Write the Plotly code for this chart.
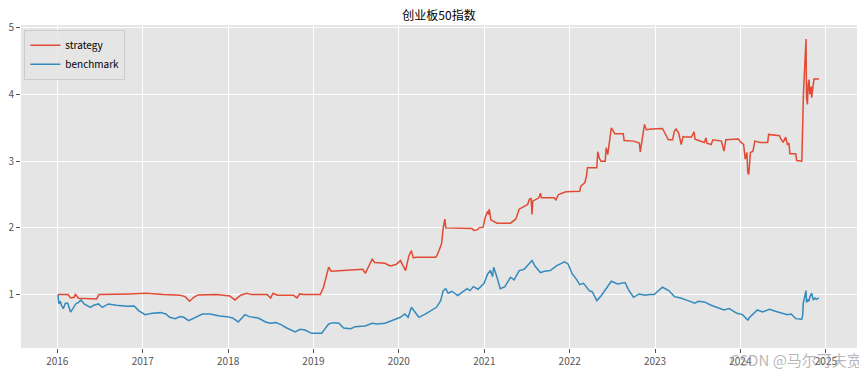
import plotly.graph_objects as go

title_text = "创业板50指数"

strategy_dates = [
    "2016-01-04", "2016-02-16", "2016-02-27", "2016-03-14", "2016-03-18", "2016-04-01", "2016-06-17", "2016-06-28",
    "2016-11-06", "2017-01-15", "2017-03-29", "2017-06-10", "2017-07-01", "2017-07-20", "2017-08-07", "2017-08-25",
    "2017-11-14", "2018-01-08", "2018-01-30", "2018-02-24", "2018-03-21", "2018-04-12", "2018-06-17", "2018-07-02",
    "2018-07-12", "2018-07-31", "2018-10-08", "2018-10-23", "2018-11-03", "2018-11-21", "2019-01-08", "2019-01-30",
    "2019-02-13", "2019-02-27", "2019-03-07", "2019-03-18", "2019-06-13", "2019-07-31", "2019-08-11", "2019-08-19",
    "2019-09-09", "2019-09-20", "2019-11-03", "2019-11-25", "2019-12-20", "2020-01-08", "2020-01-30", "2020-02-13",
    "2020-02-24", "2020-03-03", "2020-03-14", "2020-06-06", "2020-06-10", "2020-06-21", "2020-07-02", "2020-07-09",
    "2020-07-16", "2020-07-20", "2020-09-09", "2020-11-10", "2020-11-17", "2020-12-02", "2020-12-09", "2020-12-27",
    "2021-01-04", "2021-01-15", "2021-01-19", "2021-01-22", "2021-01-29", "2021-02-24", "2021-04-23", "2021-05-15",
    "2021-05-30", "2021-06-17", "2021-07-05", "2021-07-13", "2021-07-20", "2021-07-24", "2021-07-27", "2021-08-22",
    "2021-08-29", "2021-09-02", "2021-10-26", "2021-11-03", "2021-11-14", "2021-12-16", "2022-02-13", "2022-02-17",
    "2022-03-07", "2022-03-14", "2022-03-18", "2022-04-27", "2022-05-01", "2022-05-08", "2022-05-15", "2022-06-02",
    "2022-06-06", "2022-06-13", "2022-06-21", "2022-06-28", "2022-07-05", "2022-07-13", "2022-08-18", "2022-08-22",
    "2022-10-01", "2022-10-26", "2022-10-30", "2022-11-10", "2022-11-17", "2022-11-25", "2022-12-16", "2023-02-02",
    "2023-02-09", "2023-02-27", "2023-03-17", "2023-03-25", "2023-04-01", "2023-04-12", "2023-04-23", "2023-05-01",
    "2023-05-08", "2023-06-06", "2023-06-17", "2023-06-21", "2023-07-31", "2023-08-07", "2023-08-11", "2023-08-29",
    "2023-09-06", "2023-10-12", "2023-10-23", "2023-10-31", "2023-12-24", "2024-01-04", "2024-01-15", "2024-01-22",
    "2024-01-29", "2024-02-02", "2024-02-06", "2024-02-13", "2024-02-24", "2024-03-03", "2024-03-25", "2024-04-27",
    "2024-05-01", "2024-06-17", "2024-06-21", "2024-07-02", "2024-07-13", "2024-07-20", "2024-07-27", "2024-07-31",
    "2024-08-25", "2024-08-29", "2024-09-20", "2024-09-27", "2024-10-08", "2024-10-09", "2024-10-10", "2024-10-14",
    "2024-10-17", "2024-10-21", "2024-10-24", "2024-10-31", "2024-11-01", "2024-11-11", "2024-12-02",
]
strategy_values = [
    1.00, 1.00, 0.95, 0.96, 1.01, 0.945, 0.935, 1.00,
    1.01, 1.02, 1.00, 0.99, 0.97, 0.90, 0.96, 0.995,
    1.00, 0.98, 0.92, 0.99, 1.02, 1.00, 1.00, 0.95,
    1.02, 0.99, 0.99, 0.95, 1.01, 1.00, 1.00, 1.00,
    1.11, 1.33, 1.41, 1.35, 1.37, 1.38, 1.32, 1.38,
    1.53, 1.48, 1.47, 1.43, 1.45, 1.51, 1.36, 1.58,
    1.66, 1.55, 1.56, 1.56, 1.57, 1.66, 1.76, 2.00,
    2.13, 2.00, 2.00, 1.99, 1.96, 1.97, 2.00, 2.01,
    2.15, 2.25, 2.20, 2.28, 2.12, 2.07, 2.07, 2.13,
    2.28, 2.32, 2.35, 2.43, 2.44, 2.20, 2.40, 2.45,
    2.52, 2.45, 2.45, 2.42, 2.50, 2.54, 2.55, 2.62,
    2.68, 2.78, 2.90, 2.90, 3.14, 3.04, 3.00, 3.00,
    3.20, 3.10, 3.35, 3.50, 3.46, 3.41, 3.41, 3.31,
    3.30, 3.27, 3.14, 3.42, 3.55, 3.47, 3.48, 3.49,
    3.44, 3.32, 3.32, 3.45, 3.48, 3.42, 3.25, 3.37,
    3.36, 3.36, 3.44, 3.33, 3.28, 3.35, 3.27, 3.25,
    3.32, 3.30, 3.15, 3.32, 3.33, 3.28, 3.25, 3.03,
    3.13, 2.83, 2.80, 3.13, 3.15, 3.30, 3.28, 3.28,
    3.40, 3.38, 3.34, 3.28, 3.36, 3.25, 3.27, 3.11,
    3.11, 3.01, 3.00, 4.02, 4.83, 4.15, 3.95, 3.85,
    4.15, 4.22, 4.00, 4.12, 3.95, 4.23, 4.23,
]

benchmark_dates = [
    "2016-01-04", "2016-01-08", "2016-01-14", "2016-01-19", "2016-01-27", "2016-02-05", "2016-02-15", "2016-02-27",
    "2016-03-08", "2016-03-20", "2016-04-01", "2016-04-12", "2016-04-25", "2016-05-05", "2016-05-22", "2016-06-05",
    "2016-06-25", "2016-07-12", "2016-08-07", "2016-09-10", "2016-10-28", "2016-11-25", "2016-12-14", "2017-01-11",
    "2017-02-10", "2017-03-18", "2017-04-10", "2017-04-26", "2017-05-20", "2017-06-10", "2017-06-25", "2017-07-16",
    "2017-08-05", "2017-09-13", "2017-10-16", "2017-11-25", "2017-12-28", "2018-01-20", "2018-02-13", "2018-02-28",
    "2018-03-14", "2018-04-01", "2018-04-20", "2018-05-10", "2018-06-10", "2018-06-30", "2018-07-24", "2018-08-15",
    "2018-09-09", "2018-10-15", "2018-11-05", "2018-11-25", "2018-12-25", "2019-02-05", "2019-02-20", "2019-03-07",
    "2019-03-28", "2019-04-20", "2019-05-10", "2019-06-10", "2019-06-28", "2019-07-13", "2019-08-10", "2019-09-09",
    "2019-10-01", "2019-11-03", "2019-12-09", "2020-01-08", "2020-01-27", "2020-02-10", "2020-02-24", "2020-03-10",
    "2020-03-27", "2020-04-25", "2020-05-22", "2020-06-10", "2020-06-21", "2020-06-28", "2020-07-09", "2020-07-20",
    "2020-07-30", "2020-08-15", "2020-09-09", "2020-09-30", "2020-10-19", "2020-11-01", "2020-11-15", "2020-12-05",
    "2020-12-31", "2021-01-15", "2021-01-27", "2021-02-05", "2021-02-10", "2021-02-24", "2021-03-10", "2021-03-30",
    "2021-04-23", "2021-05-08", "2021-05-30", "2021-06-20", "2021-07-13", "2021-07-24", "2021-08-07", "2021-08-29",
    "2021-09-15", "2021-10-10", "2021-11-05", "2021-12-10", "2021-12-25", "2022-01-12", "2022-01-28", "2022-02-13",
    "2022-03-01", "2022-03-26", "2022-04-08", "2022-04-27", "2022-05-15", "2022-06-03", "2022-06-28", "2022-07-25",
    "2022-08-26", "2022-09-10", "2022-10-01", "2022-10-25", "2022-11-20", "2022-12-10", "2022-12-28", "2023-02-02",
    "2023-03-01", "2023-03-25", "2023-04-20", "2023-05-22", "2023-06-10", "2023-06-20", "2023-07-05", "2023-07-31",
    "2023-08-29", "2023-09-25", "2023-10-23", "2023-11-15", "2023-12-17", "2024-01-10", "2024-02-02", "2024-02-10",
    "2024-03-14", "2024-04-05", "2024-05-05", "2024-05-30", "2024-06-28", "2024-07-20", "2024-08-05", "2024-08-25",
    "2024-09-20", "2024-09-24", "2024-09-26", "2024-10-08", "2024-10-10", "2024-10-15", "2024-10-20", "2024-10-25",
    "2024-11-01", "2024-11-08", "2024-11-15", "2024-11-22", "2024-12-02",
]
benchmark_values = [
    1.00, 0.86, 0.90, 0.84, 0.79, 0.87, 0.87, 0.74,
    0.79, 0.86, 0.885, 0.92, 0.86, 0.84, 0.81, 0.84,
    0.86, 0.81, 0.86, 0.84, 0.825, 0.83, 0.76, 0.70,
    0.72, 0.73, 0.71, 0.66, 0.64, 0.67, 0.66, 0.61,
    0.64, 0.71, 0.71, 0.68, 0.67, 0.65, 0.59, 0.65,
    0.70, 0.67, 0.66, 0.65, 0.59, 0.57, 0.58, 0.55,
    0.50, 0.44, 0.48, 0.47, 0.42, 0.42, 0.49, 0.56,
    0.58, 0.57, 0.50, 0.49, 0.52, 0.52, 0.53, 0.57,
    0.56, 0.57, 0.62, 0.66, 0.71, 0.66, 0.81, 0.74,
    0.66, 0.71, 0.77, 0.81, 0.87, 0.91, 1.06, 1.09,
    1.02, 1.05, 0.985, 1.04, 1.09, 1.06, 1.12, 1.08,
    1.17, 1.31, 1.36, 1.27, 1.41, 1.26, 1.09, 1.12,
    1.26, 1.22, 1.36, 1.38, 1.48, 1.51, 1.42, 1.33,
    1.35, 1.36, 1.43, 1.49, 1.46, 1.31, 1.24, 1.15,
    1.17, 1.06, 1.04, 0.91, 0.98, 1.07, 1.20, 1.16,
    1.18, 1.07, 0.96, 1.01, 0.99, 1.00, 1.00, 1.11,
    1.06, 0.97, 0.95, 0.91, 0.89, 0.87, 0.90, 0.89,
    0.84, 0.80, 0.77, 0.79, 0.72, 0.70, 0.62, 0.66,
    0.77, 0.74, 0.78, 0.75, 0.72, 0.70, 0.71, 0.64,
    0.63, 0.70, 0.87, 1.06, 0.88, 0.93, 0.90, 0.97,
    1.02, 0.92, 0.95, 0.93, 0.95,
]

series_names = ["strategy", "benchmark"]
y_tick_values = [1, 2, 3, 4, 5]
x_tick_labels = [str(y) for y in range(2016, 2026)]

FONT = "Noto Sans CJK SC, Noto Sans, DejaVu Sans, sans-serif"

# The page body has an 8px default margin, so the figure is sized/offset to
# place the plot area where the reference has it inside the 867x374 window.
FIG_W, FIG_H = 859, 366

fig = go.Figure()
fig.add_trace(go.Scatter(
    x=strategy_dates, y=strategy_values, mode="lines", name=series_names[0],
    line=dict(color="#E24A33", width=1.5),
))
fig.add_trace(go.Scatter(
    x=benchmark_dates, y=benchmark_values, mode="lines", name=series_names[1],
    line=dict(color="#348ABD", width=1.5),
))

fig.update_layout(
    width=FIG_W, height=FIG_H,
    margin=dict(l=13, r=10, t=17, b=26, pad=0),
    paper_bgcolor="white",
    plot_bgcolor="#E5E5E5",
    font=dict(family=FONT, size=10, color="#555555"),
    title=dict(text=title_text, x=0.5, xref="paper", xanchor="center",
               y=1 - 7.5 / FIG_H, yref="container", yanchor="middle",
               font=dict(size=12, color="black", family=FONT)),
    showlegend=True,
    legend=dict(x=0.004, y=0.985, xanchor="left", yanchor="top",
                bgcolor="rgba(229,229,229,0.85)", bordercolor="#CCCCCC", borderwidth=1,
                font=dict(size=10, color="black", family=FONT),
                itemwidth=30, tracegroupgap=0),
    xaxis=dict(
        type="date",
        range=["2015-07-30", "2025-05-14"],
        tickvals=[f"{y}-01-01" for y in x_tick_labels],
        ticktext=x_tick_labels,
        showgrid=True, gridcolor="white", gridwidth=1,
        ticks="outside", ticklen=4, tickcolor="#555555",
        zeroline=False, showline=False, automargin=False,
        tickfont=dict(size=10, color="#555555"),
    ),
    yaxis=dict(
        range=[0.2, 5.04],
        tickvals=y_tick_values,
        showgrid=True, gridcolor="white", gridwidth=1,
        ticks="outside", ticklen=4, tickcolor="#555555",
        zeroline=False, showline=False, automargin=False,
        tickfont=dict(size=10, color="#555555"),
    ),
    annotations=[dict(
        text="CSDN @马尔可夫宽", xref="paper", yref="paper",
        x=1.008, y=-0.037, xanchor="right", yanchor="middle", showarrow=False,
        font=dict(size=15, color="rgba(160,160,160,0.75)", family=FONT),
    )],
)

fig.write_html("out.html")
